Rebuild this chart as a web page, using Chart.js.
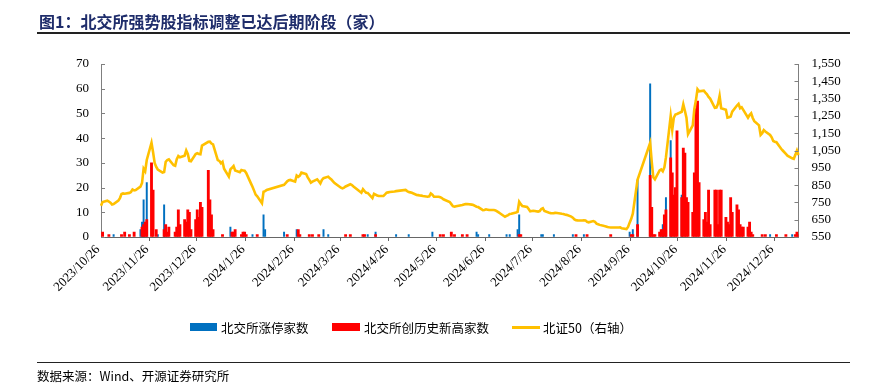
<!DOCTYPE html>
<html><head><meta charset="utf-8">
<script src="https://cdn.jsdelivr.net/npm/chart.js@4.4.0/dist/chart.umd.min.js"></script>
<style>
html,body{margin:0;padding:0;background:#fff;}
body{width:881px;height:386px;position:relative;overflow:hidden;font-family:"Noto Sans CJK SC","Noto Sans",sans-serif;}
#c{position:absolute;left:0;top:0;}
.abs{position:absolute;white-space:nowrap;}
#title{left:39px;top:10px;font-size:16px;line-height:22px;font-weight:700;color:#1F2D6B;}
#tline{left:37px;top:32px;width:813px;height:2px;background:#222;}
#fline{left:37px;top:362px;width:813px;height:1px;background:#222;}
#src{left:37px;top:368px;font-size:12.5px;line-height:16px;color:#000;}
.lt{top:319px;font-size:12.5px;line-height:17px;color:#000;}
</style></head>
<body>
<canvas id="c" width="881" height="386"></canvas>
<div class="abs" id="title">图1：北交所强势股指标调整已达后期阶段（家）</div>
<div class="abs" id="tline"></div>
<div class="abs" style="left:190px;top:323px;width:27px;height:8px;background:#0070C0"></div>
<div class="abs lt" style="left:221px">北交所涨停家数</div>
<div class="abs" style="left:332px;top:323px;width:28px;height:8px;background:#FF0000"></div>
<div class="abs lt" style="left:364px">北交所创历史新高家数</div>
<div class="abs" style="left:512px;top:326px;width:28px;height:3px;background:#FFC000"></div>
<div class="abs lt" style="left:543px">北证50（右轴）</div>
<div class="abs" id="fline"></div>
<div class="abs" id="src">数据来源：Wind、开源证券研究所</div>
<script>
// ---- calendar / categories ----
const START_DATE = [2023, 10, 26];
const END_DATE = [2025, 1, 10];
const HOLIDAYS = ['2024-01-01','2024-02-09','2024-02-12','2024-02-13','2024-02-14','2024-02-15','2024-02-16',
  '2024-04-04','2024-04-05','2024-05-01','2024-05-02','2024-05-03','2024-06-10','2024-09-16','2024-09-17',
  '2024-10-01','2024-10-02','2024-10-03','2024-10-04','2024-10-07','2025-01-01'];
const TICK_DAY = 26;

// ---- 北证50 (right axis), one value per trading day, grouped by month ----
const bz50_2023_10 = [730, 752, 760, 755];
const bz50_2023_11 = [748, 738, 740, 760, 775, 798, 802, 800, 805, 810, 825, 820, 822, 841, 862, 945, 930, 995, 1095, 1040, 978, 955];
const bz50_2023_12 = [940, 922, 925, 985, 995, 999, 965, 962, 1000, 1018, 1011, 1020, 1050, 1030, 990, 988, 1030, 1034, 1030, 1028, 1078];
const bz50_2024_01 = [1100, 1101, 1090, 1085, 995, 990, 976, 985, 945, 899, 941, 950, 960, 935, 925, 937, 935, 933, 920, 860, 841, 818];
const bz50_2024_02 = [795, 785, 745, 812, 815, 822, 852, 862, 872, 878, 880, 870, 905, 898, 905];
const bz50_2024_03 = [922, 914, 895, 880, 864, 870, 883, 872, 860, 880, 890, 899, 889, 882, 872, 862, 842, 835, 831, 836, 842];
const bz50_2024_04 = [855, 850, 842, 806, 826, 815, 806, 805, 775, 800, 795, 790, 787, 787, 796, 806, 808, 810, 813, 815];
const bz50_2024_05 = [822, 815, 810, 808, 806, 793, 792, 790, 789, 787, 783, 785, 802, 795, 783, 783, 780, 775, 768, 764];
const bz50_2024_06 = [752, 740, 728, 725, 728, 735, 738, 740, 741, 737, 735, 730, 725, 723, 705, 706, 710, 708, 706];
const bz50_2024_07 = [706, 704, 698, 692, 686, 667, 672, 677, 683, 685, 692, 696, 754, 740, 729, 724, 712, 698, 700, 702, 697, 700, 712];
const bz50_2024_08 = [716, 700, 690, 688, 687, 688, 690, 686, 684, 683, 680, 678, 668, 662, 652, 647, 646, 645, 647, 646, 638, 635];
const bz50_2024_09 = [642, 638, 627, 624, 620, 613, 611, 608, 606, 605, 605, 606, 600, 596, 608, 633, 655, 685, 880];
const bz50_2024_10 = [1095, 985, 895, 883, 935, 941, 930, 952, 1010, 1249, 1170, 1240, 1258, 1261, 1274, 1317, 1280, 1240];
const bz50_2024_11 = [1145, 1195, 1290, 1340, 1404, 1392, 1396, 1385, 1375, 1360, 1350, 1297, 1298, 1320, 1365, 1294, 1285, 1240, 1242, 1246, 1275];
const bz50_2024_12 = [1310, 1319, 1294, 1300, 1285, 1240, 1255, 1265, 1238, 1220, 1195, 1140, 1150, 1168, 1160, 1140, 1126, 1105, 1101, 1098, 1060, 1050];
const bz50_2025_01 = [1030, 1020, 1005, 1002, 1025, 1050, 1024];

// ---- 北交所创历史新高家数 (red bars) ----
const newHigh_2023_10 = [0,2,0,1];
const newHigh_2023_11 = [0,0,0,0,0,1,0,2,1,0,0,2,0,0,4,5,6,7,30,19,0,3];
const newHigh_2023_12 = [0,0,3,5,2,4,0,2,4,11,5,7,6,11,10,3,7,11,8,14,12];
const newHigh_2024_01 = [27,15,9,3,0,0,0,1,0,0,0,2,2,3,0,1,2,2,1,0,0,0];
const newHigh_2024_02 = [0,1,0,0,0,0,0,0,1,0,0,0,0,3,1];
const newHigh_2024_03 = [0,0,0,1,0,1,0,1,0,0,0,0,0,0,0,0,0,0,0,0,1];
const newHigh_2024_04 = [1,0,0,0,1,1,0,0,0,0,1,0,0,0,0,0,0,0,0,0];
const newHigh_2024_05 = [0,0,0,0,0,0,0,0,0,0,0,0,0,0,0,0,1,0,1,0];
const newHigh_2024_06 = [0,2,0,1,0,1,0,0,1,0,0,0,0,0,0,0,0,0,0];
const newHigh_2024_07 = [0,0,0,0,0,0,0,0,0,0,0,0,1,1,0,0,0,0,0,0,0,0,0];
const newHigh_2024_08 = [0,0,0,0,0,0,0,0,0,0,0,0,0,0,0,1,0,0,0,0,1,0];
const newHigh_2024_09 = [0,0,0,0,0,0,0,0,0,1,0,0,0,0,0,0,1,1,5];
const newHigh_2024_10 = [25,12,1,1,2,3,3,9,11,32,26,17,20,43,16,36,34,16];
const newHigh_2024_11 = [14,10,26,52,55,22,7,10,6,19,5,19,19,5,19,19,8,6,5,16,10];
const newHigh_2024_12 = [13,11,5,4,4,4,6,2,1,0,0,0,1,0,1,0,0,0,0,1,0,0];
const newHigh_2025_01 = [1,0,0,0,1,2,1];

// ---- 北交所涨停家数 (blue bars) ----
const limitUp_2023_10 = [0,0,0,0];
const limitUp_2023_11 = [0,0,1,0,0,0,0,0,0,0,0,0,0,3,6,15,0,22,0,0,0,0];
const limitUp_2023_12 = [1,0,13,0,0,0,0,0,0,0,0,0,0,0,0,0,0,0,0,0,0];
const limitUp_2024_01 = [0,0,0,0,0,0,0,0,0,0,4,0,0,0,0,0,0,0,0,0,1,0];
const limitUp_2024_02 = [0,0,0,9,3,0,2,0,0,0,0,0,3,0,0];
const limitUp_2024_03 = [0,0,0,0,0,0,0,0,0,0,3,1,0,0,0,0,0,0,0,0,0];
const limitUp_2024_04 = [0,0,0,0,0,0,0,1,0,0,2,0,0,0,0,0,0,0,0,1];
const limitUp_2024_05 = [0,0,1,0,0,0,0,0,0,0,0,0,0,2,0,0,0,0,0,0];
const limitUp_2024_06 = [0,0,0,0,0,0,0,0,0,0,0,0,2,1,0,0,0,0,1];
const limitUp_2024_07 = [0,0,0,0,0,0,1,0,1,0,0,3,9,0,0,0,0,0,0,0,0,0,1];
const limitUp_2024_08 = [1,0,0,0,0,1,0,0,0,0,0,0,0,1,0,0,0,0,1,0,0,0];
const limitUp_2024_09 = [0,0,0,0,0,0,0,0,0,0,0,0,0,0,0,2,0,3,23];
const limitUp_2024_10 = [62,0,0,0,0,0,5,0,16,39,0,0,0,0,17,0,0,0];
const limitUp_2024_11 = [0,0,0,0,0,0,0,0,0,0,0,0,0,0,0,0,0,0,0,0,0];
const limitUp_2024_12 = [0,0,0,0,0,0,0,0,0,0,0,0,0,0,0,1,0,0,0,0,0,0];
const limitUp_2025_01 = [0,0,1,0,0,0,0];

const bz50 = [].concat(bz50_2023_10,bz50_2023_11,bz50_2023_12,bz50_2024_01,bz50_2024_02,bz50_2024_03,bz50_2024_04,
  bz50_2024_05,bz50_2024_06,bz50_2024_07,bz50_2024_08,bz50_2024_09,bz50_2024_10,bz50_2024_11,bz50_2024_12,bz50_2025_01);
const newHigh = [].concat(newHigh_2023_10,newHigh_2023_11,newHigh_2023_12,newHigh_2024_01,newHigh_2024_02,newHigh_2024_03,newHigh_2024_04,
  newHigh_2024_05,newHigh_2024_06,newHigh_2024_07,newHigh_2024_08,newHigh_2024_09,newHigh_2024_10,newHigh_2024_11,newHigh_2024_12,newHigh_2025_01);
const limitUp = [].concat(limitUp_2023_10,limitUp_2023_11,limitUp_2023_12,limitUp_2024_01,limitUp_2024_02,limitUp_2024_03,limitUp_2024_04,
  limitUp_2024_05,limitUp_2024_06,limitUp_2024_07,limitUp_2024_08,limitUp_2024_09,limitUp_2024_10,limitUp_2024_11,limitUp_2024_12,limitUp_2025_01);

// ---- build calendar-day categories (date axis) ----
const days = [];
for (let t = Date.UTC(START_DATE[0], START_DATE[1]-1, START_DATE[2]); t <= Date.UTC(END_DATE[0], END_DATE[1]-1, END_DATE[2]); t += 86400000) days.push(new Date(t));
const labels = days.map(d => d.getUTCFullYear() + '/' + (d.getUTCMonth()+1) + '/' + d.getUTCDate());
const tradeIdx = [];
days.forEach((d, i) => { const w = d.getUTCDay(); if (w !== 0 && w !== 6 && !HOLIDAYS.includes(d.toISOString().slice(0,10))) tradeIdx.push(i); });
function toCal(arr, zeroAsNull) {
  const out = new Array(days.length).fill(null);
  arr.forEach((v, k) => { if (k < tradeIdx.length) out[tradeIdx[k]] = (zeroAsNull && v === 0) ? null : v; });
  return out;
}
const isTick = i => days[i] && days[i].getUTCDate() === TICK_DAY;

const innerTicks = {
  id: 'innerTicks',
  afterDatasetsDraw(chart) {
    const ctx = chart.ctx; ctx.save(); ctx.strokeStyle = '#7f7f7f'; ctx.lineWidth = 1;
    ['y','y1'].forEach(id => {
      const s = chart.scales[id];
      s.ticks.forEach(t => {
        const py = Math.round(s.getPixelForValue(t.value)) + 0.5;
        ctx.beginPath();
        if (id === 'y') { ctx.moveTo(s.right, py); ctx.lineTo(s.right + 4, py); }
        else { ctx.moveTo(s.left - 4, py); ctx.lineTo(s.left, py); }
        ctx.stroke();
      });
    });
    ctx.restore();
  }
};

const numFont = { family: '"Liberation Serif","Times New Roman",serif', size: 13 };
new Chart(document.getElementById('c'), {
  data: {
    labels: labels,
    datasets: [
      { type: 'line', label: '北证50（右轴）', data: toCal(bz50, false), yAxisID: 'y1', borderColor: '#FFC000',
        borderWidth: 2.6, pointRadius: 0, tension: 0, spanGaps: true, order: 0 },
      { type: 'bar', label: '北交所创历史新高家数', data: toCal(newHigh, true), yAxisID: 'y', backgroundColor: '#FF0000',
        grouped: false, barThickness: 2.2, order: 1 },
      { type: 'bar', label: '北交所涨停家数', data: toCal(limitUp, true), yAxisID: 'y', backgroundColor: '#0070C0',
        grouped: false, barThickness: 1.3, order: 2 }
    ]
  },
  options: {
    responsive: false, animation: false, devicePixelRatio: 1,
    layout: { padding: { top: 64, bottom: 0, left: 0, right: 0 } },
    plugins: { legend: { display: false }, tooltip: { enabled: false } },
    scales: {
      x: {
        type: 'category', offset: false,
        afterFit: s => { s.height = 149; },
        border: { display: true, color: '#666', width: 1 },
        grid: { drawOnChartArea: false, drawTicks: true, tickLength: 4,
                color: ctx => isTick(ctx.index) ? '#666' : 'rgba(0,0,0,0)' },
        ticks: { autoSkip: false, minRotation: 45, maxRotation: 45, padding: 1, labelOffset: -3,
                 color: '#000', font: numFont,
                 callback: (v, i) => isTick(i) ? labels[i] : '' }
      },
      y: {
        position: 'left', min: 0, max: 70,
        afterFit: s => { s.width = 101; },
        border: { display: true, color: '#7f7f7f', width: 1 },
        grid: { display: true, drawOnChartArea: false, drawTicks: false },
        ticks: { stepSize: 10, autoSkip: false, padding: 12, color: '#000', font: numFont }
      },
      y1: {
        position: 'right', min: 550, max: 1550,
        afterFit: s => { s.width = 82.5; },
        border: { display: true, color: '#7f7f7f', width: 1 },
        grid: { display: true, drawOnChartArea: false, drawTicks: false },
        ticks: { stepSize: 100, autoSkip: false, padding: 13, color: '#000', font: numFont,
                 callback: v => v.toLocaleString('en-US') }
      }
    }
  },
  plugins: [innerTicks]
});
</script>
</body></html>
